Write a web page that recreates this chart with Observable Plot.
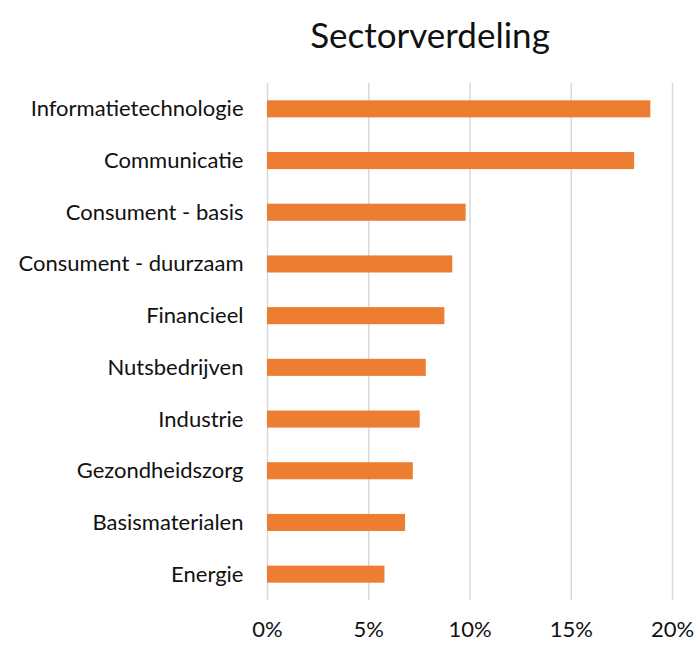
<!DOCTYPE html>
<html>
<head>
<meta charset="utf-8">
<script src="https://cdn.jsdelivr.net/npm/d3@7"></script>
<script src="https://cdn.jsdelivr.net/npm/@observablehq/plot@0.6"></script>
<style>
  body { margin: 0; background: #fff; }
  #wrap { position: relative; width: 695px; height: 647px; }
  #title { position: absolute; left: 0; top: 13px; width: 860px; text-align: center;
           font-family: Lato, "Open Sans", sans-serif; font-size: 35px; color: #111; }
  svg { position: absolute; left: 0; top: 0; }
</style>
</head>
<body>
<div id="wrap"><div id="title">Sectorverdeling</div></div>
<script>
const sectors = ["Informatietechnologie", "Communicatie", "Consument - basis", "Consument - duurzaam",
  "Financieel", "Nutsbedrijven", "Industrie", "Gezondheidszorg", "Basismaterialen", "Energie"];
const weights = [18.93, 18.13, 9.81, 9.15, 8.76, 7.84, 7.54, 7.20, 6.82, 5.80];
const xTicks = [0, 5, 10, 15, 20];

const data = sectors.map((s, i) => ({sector: s, value: weights[i]}));

const chart = Plot.plot({
  width: 695,
  height: 647,
  marginLeft: 267,
  marginRight: 23,
  marginTop: 83,
  marginBottom: 47,
  style: {fontFamily: "Lato, 'Open Sans', sans-serif", fontSize: "22px", color: "#111", background: "transparent"},
  x: {domain: [0, 20], ticks: xTicks, tickFormat: d => d + "%", label: null, tickSize: 0, tickPadding: 21},
  y: {domain: sectors, label: null, tickSize: 0, tickPadding: 24, paddingInner: 0.67, paddingOuter: 0.335, round: false},
  marks: [
    Plot.ruleX(xTicks, {stroke: "#d9d9d9", strokeWidth: 1.5}),
    Plot.barX(data, {x: "value", y: "sector", fill: "#ED7D31"})
  ]
});
document.getElementById("wrap").prepend(chart);
</script>
</body>
</html>
